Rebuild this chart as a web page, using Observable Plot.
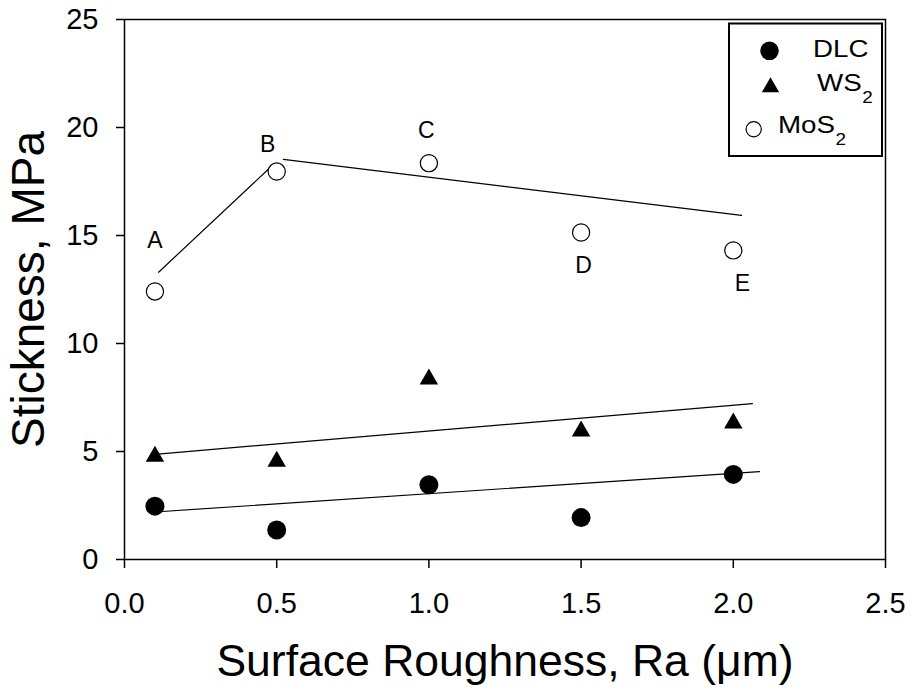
<!DOCTYPE html>
<html>
<head>
<meta charset="utf-8">
<script src="https://cdn.jsdelivr.net/npm/d3@7"></script>
<script src="https://cdn.jsdelivr.net/npm/@observablehq/plot@0.6"></script>
<style>
  html, body { margin: 0; padding: 0; background: white; }
  #chart { width: 916px; height: 693px; }
</style>
</head>
<body>
<div id="chart"></div>
<script>
// ---- data ----
const roughness = [0.1, 0.5, 1.0, 1.5, 2.0];
const dlc = [2.47, 1.37, 3.46, 1.94, 3.94];
const ws2 = [4.77, 4.54, 8.35, 5.94, 6.31];
const mos2 = [12.41, 17.96, 18.35, 15.14, 14.31];
const pointLabels = ["A", "B", "C", "D", "E"];

// fitted trend lines as drawn (end points)
const dlcLineX = [0.1, 2.086];
const dlcLineY = [2.2, 4.07];
const ws2LineX = [0.1, 2.063];
const ws2LineY = [4.87, 7.22];
const mosLine1X = [0.112, 0.475];
const mosLine1Y = [13.3, 18.1];
const mosLine2X = [0.522, 2.027];
const mosLine2Y = [18.52, 15.93];

const xTicks = [0, 0.5, 1.0, 1.5, 2.0, 2.5];
const yTicks = [0, 5, 10, 15, 20, 25];
const xTitle = "Surface Roughness, Ra (\u03BCm)";
const yTitle = "Stickness, MPa";
const seriesNames = ["DLC", "WS", "MoS"];
const seriesSubs = ["", "2", "2"];

// ---- build tables ----
const pts = (ys) => roughness.map((x, i) => ({x, y: ys[i], label: pointLabels[i]}));
const line = (xs, ys) => xs.map((x, i) => ({x, y: ys[i]}));
const dlcPts = pts(dlc), wsPts = pts(ws2), mosPts = pts(mos2);

// label offsets (style)
const labelOffsets = {A: [0, -51], B: [-9, -27], C: [-2.5, -32.5], D: [2.5, 33.5], E: [9, 33]};

const FONT = "'Liberation Sans', Arial, Helvetica, sans-serif";

const labelMarks = mosPts.map(p => Plot.text([p], {
  x: "x", y: "y", text: "label",
  dx: labelOffsets[p.label][0], dy: labelOffsets[p.label][1],
  fontSize: 23, fill: "black", lineAnchor: "middle"
}));

const chart = Plot.plot({
  width: 916,
  height: 693,
  marginLeft: 124,
  marginRight: 31,
  marginTop: 19,
  marginBottom: 134,
  style: {fontFamily: FONT, color: "black", background: "white", overflow: "visible"},
  x: {domain: [0, 2.5]},
  y: {domain: [0, 25]},
  marks: [
    Plot.axisY({ticks: yTicks, tickSize: 8, tickPadding: 18, fontSize: 29, label: null,
      tickFormat: d => String(d), strokeWidth: 1.5}),
    Plot.axisX({ticks: xTicks, tickSize: 9, tickPadding: 24, fontSize: 29, label: null,
      tickFormat: d3.format(".1f"), strokeWidth: 1.5}),
    Plot.line(line(dlcLineX, dlcLineY), {x: "x", y: "y", stroke: "black", strokeWidth: 1.2}),
    Plot.line(line(ws2LineX, ws2LineY), {x: "x", y: "y", stroke: "black", strokeWidth: 1.2}),
    Plot.line(line(mosLine1X, mosLine1Y), {x: "x", y: "y", stroke: "black", strokeWidth: 1.2}),
    Plot.line(line(mosLine2X, mosLine2Y), {x: "x", y: "y", stroke: "black", strokeWidth: 1.2}),
    Plot.dot(dlcPts, {x: "x", y: "y", r: 9.5, fill: "black", stroke: "none"}),
    Plot.dot(wsPts, {x: "x", y: "y", r: 6.85, symbol: "triangle", fill: "black", stroke: "none"}),
    Plot.dot(mosPts, {x: "x", y: "y", r: 8.6, fill: "white", stroke: "black", strokeWidth: 1.2}),
    ...labelMarks,
    Plot.text([yTitle], {frameAnchor: "left", text: d => d, rotate: -90, dx: -81,
      fontSize: 46, lineAnchor: "bottom", textAnchor: "middle", fill: "black"}),
    Plot.text([xTitle], {frameAnchor: "bottom", text: d => d, dy: 116,
      fontSize: 44.5, lineAnchor: "bottom", textAnchor: "middle", fill: "black"}),
    Plot.frame({stroke: "black", strokeWidth: 1.5})
  ]
});
document.getElementById("chart").appendChild(chart);

// ---- legend (inside the plot, top right) ----
const svg = d3.select(chart);
const lg = svg.append("g").attr("font-family", FONT).attr("text-anchor", "start");
lg.append("rect").attr("x", 729).attr("y", 23.5).attr("width", 153).attr("height", 132.5)
  .attr("fill", "white").attr("stroke", "black").attr("stroke-width", 2);

const legendLayout = [
  {sym: [769.5, 50.8], symbol: d3.symbolCircle, size: Math.PI * 9.3 * 9.3, fill: "black", stroke: "none", tx: 813, ty: 57.3},
  {sym: [770.5, 87.3], symbol: d3.symbolTriangle, size: 130, fill: "black", stroke: "none", tx: 817, ty: 90.7},
  {sym: [753.7, 129.3], symbol: d3.symbolCircle, size: Math.PI * 7.6 * 7.6, fill: "white", stroke: "black", tx: 778, ty: 133}
];
seriesNames.forEach((name, i) => {
  const L = legendLayout[i];
  lg.append("path")
    .attr("d", d3.symbol(L.symbol, L.size)())
    .attr("transform", `translate(${L.sym[0]},${L.sym[1]})`)
    .attr("fill", L.fill).attr("stroke", L.stroke).attr("stroke-width", 1.2);
  const t = lg.append("text")
    .attr("text-anchor", "start")
    .attr("transform", `translate(${L.tx},${L.ty}) scale(1.18,1)`)
    .style("font-size", "23.5px").attr("fill", "black");
  t.append("tspan").text(name);
  if (seriesSubs[i]) {
    t.append("tspan").style("font-size", "16px").attr("dy", 12).attr("dx", 0.5).text(seriesSubs[i]);
  }
});
</script>
</body>
</html>
